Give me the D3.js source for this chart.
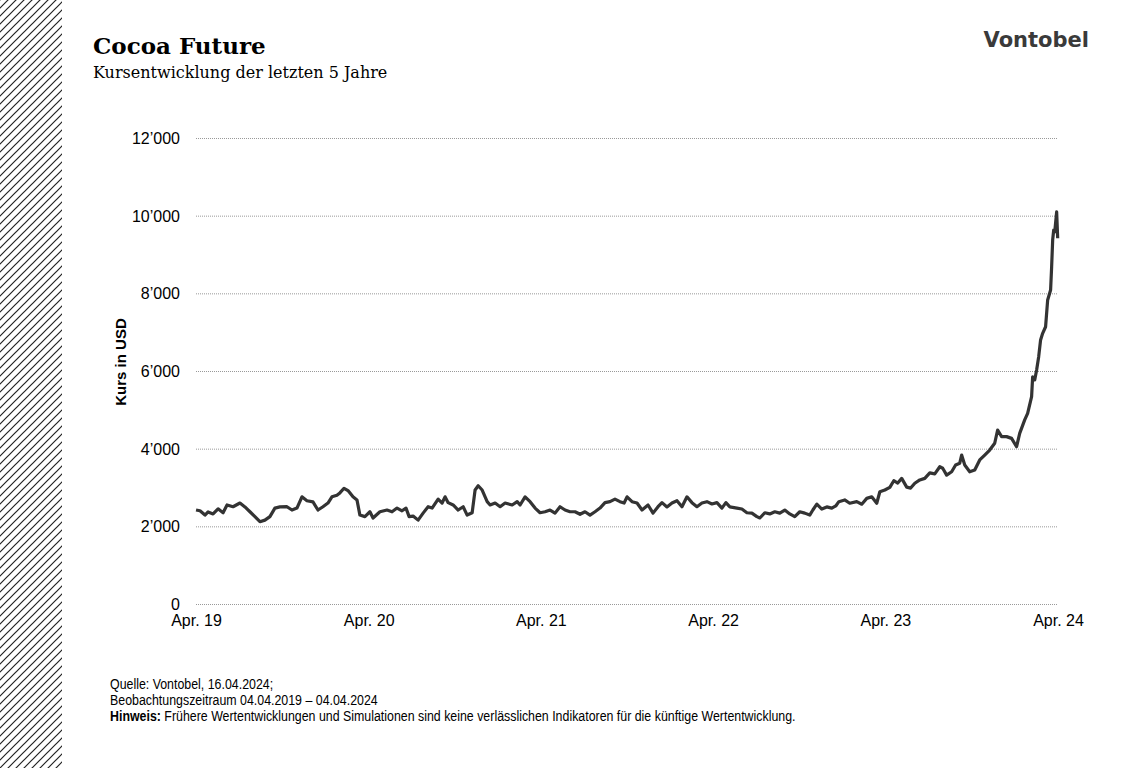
<!DOCTYPE html>
<html>
<head>
	<meta charset="utf-8">
	<title>Cocoa Future</title>
	<style>
		body { margin: 0; background: #fff; }
		svg { display: block; }
		.title { font-family: Georgia, 'DejaVu Serif', serif; font-weight: bold; font-size: 23px; }
		.subtitle { font-family: Georgia, 'DejaVu Serif', serif; font-size: 16px; }
		.tick text { font-family: 'Liberation Sans', Arial, sans-serif; font-size: 16px; fill: #000; }
		.ylab { font-family: 'Liberation Sans', Arial, sans-serif; font-size: 15px; font-weight: bold; }
		.logo { font-family: 'DejaVu Sans', sans-serif; font-weight: bold; font-size: 21px; fill: #3a3a3a; }
		.note { font-family: 'Liberation Sans', Arial, sans-serif; font-size: 14.5px; }
	</style>
</head>
<body>
<svg width="1122" height="768"></svg>
<script src="https://d3js.org/d3.v7.min.js"></script>
<script>

// price history, decimal year -> USD
const years = [
	2019.255, 2019.278, 2019.307, 2019.325, 2019.354, 2019.383, 2019.412, 2019.435, 2019.470, 2019.510,
	2019.539, 2019.568, 2019.597, 2019.626, 2019.655, 2019.684, 2019.713, 2019.742, 2019.783, 2019.812,
	2019.841, 2019.870, 2019.899, 2019.934, 2019.963, 2019.992, 2020.021, 2020.044, 2020.073, 2020.090,
	2020.114, 2020.137, 2020.166, 2020.189, 2020.206, 2020.235, 2020.264, 2020.282, 2020.322, 2020.363,
	2020.392, 2020.421, 2020.450, 2020.473, 2020.491, 2020.514, 2020.543, 2020.572, 2020.601, 2020.624,
	2020.659, 2020.682, 2020.699, 2020.717, 2020.746, 2020.775, 2020.804, 2020.827, 2020.856, 2020.873,
	2020.891, 2020.914, 2020.943, 2020.960, 2020.989, 2021.018, 2021.047, 2021.088, 2021.117, 2021.134,
	2021.163, 2021.192, 2021.221, 2021.250, 2021.279, 2021.308, 2021.337, 2021.366, 2021.395, 2021.424,
	2021.453, 2021.482, 2021.511, 2021.540, 2021.569, 2021.598, 2021.627, 2021.656, 2021.685, 2021.714,
	2021.738, 2021.755, 2021.784, 2021.813, 2021.842, 2021.877, 2021.906, 2021.935, 2021.958, 2021.987,
	2022.016, 2022.045, 2022.074, 2022.103, 2022.132, 2022.161, 2022.190, 2022.219, 2022.248, 2022.277,
	2022.306, 2022.329, 2022.352, 2022.393, 2022.422, 2022.451, 2022.480, 2022.509, 2022.526, 2022.555,
	2022.584, 2022.613, 2022.642, 2022.671, 2022.700, 2022.729, 2022.758, 2022.787, 2022.816, 2022.834,
	2022.857, 2022.886, 2022.915, 2022.944, 2022.967, 2022.985, 2023.019, 2023.048, 2023.089, 2023.118,
	2023.147, 2023.176, 2023.205, 2023.223, 2023.252, 2023.281, 2023.304, 2023.327, 2023.350, 2023.379,
	2023.402, 2023.426, 2023.455, 2023.484, 2023.513, 2023.542, 2023.571, 2023.588, 2023.611, 2023.640,
	2023.663, 2023.687, 2023.698, 2023.716, 2023.745, 2023.774, 2023.803, 2023.832, 2023.861, 2023.890,
	2023.907, 2023.930, 2023.959, 2023.988, 2024.017, 2024.035, 2024.064, 2024.081, 2024.104, 2024.110,
	2024.122, 2024.133, 2024.145, 2024.156, 2024.168, 2024.185, 2024.197, 2024.214, 2024.220, 2024.226,
	2024.232, 2024.238, 2024.249, 2024.255
];

const prices = [
	2420, 2400, 2290, 2370, 2320, 2450, 2350, 2550, 2505, 2600,
	2500, 2375, 2250, 2120, 2160, 2250, 2470, 2500, 2505, 2420,
	2470, 2760, 2660, 2630, 2420, 2505, 2600, 2760, 2800, 2860,
	2980, 2920, 2760, 2680, 2290, 2250, 2375, 2215, 2375, 2420,
	2375, 2470, 2400, 2470, 2250, 2265, 2160, 2340, 2505, 2470,
	2700, 2600, 2760, 2610, 2550, 2420, 2505, 2290, 2350, 2935,
	3045, 2935, 2635, 2550, 2600, 2505, 2600, 2550, 2635, 2550,
	2760, 2635, 2470, 2350, 2375, 2420, 2340, 2505, 2420, 2375,
	2375, 2310, 2375, 2290, 2375, 2470, 2610, 2635, 2700, 2635,
	2600, 2760, 2635, 2600, 2420, 2550, 2340, 2505, 2610, 2500,
	2600, 2660, 2505, 2760, 2610, 2505, 2600, 2635, 2575, 2610,
	2470, 2610, 2500, 2470, 2445, 2350, 2340, 2250, 2215, 2350,
	2320, 2375, 2340, 2420, 2320, 2250, 2375, 2340, 2290, 2420,
	2570, 2445, 2500, 2470, 2525, 2635, 2680, 2595, 2635, 2570,
	2720, 2760, 2595, 2890, 2935, 3005, 3175, 3115, 3235, 3010,
	2985, 3110, 3195, 3235, 3375, 3350, 3535, 3495, 3320, 3405,
	3580, 3625, 3835, 3580, 3405, 3450, 3710, 3835, 3965, 4140,
	4480, 4310, 4310, 4265, 4050, 4395, 4740, 4910, 5340, 5850,
	5770, 6025, 6370, 6800, 6970, 7140, 7830, 8085, 8685, 9375,
	9630, 9585, 10100, 9420
];

const yTicks = [0, 2000, 4000, 6000, 8000, 10000, 12000];
const xTickYears = [2019, 2020, 2021, 2022, 2023, 2024];
const xTickLabels = ['Apr. 19', 'Apr. 20', 'Apr. 21', 'Apr. 22', 'Apr. 23', 'Apr. 24'];

function toDate(t) {
	const y = Math.floor(t);
	const a = new Date(y, 0, 1), b = new Date(y + 1, 0, 1);
	return new Date(+a + (t - y) * (b - a));
}

const data = years.map((t, i) => ({date: toDate(t), value: prices[i]}));

const svg = d3.select('svg');

// hatched band on the left
const defs = svg.append('defs');
defs.append('pattern')
	.attr('id', 'hatch')
	.attr('patternUnits', 'userSpaceOnUse')
	.attr('width', 8)
	.attr('height', 8)
	.append('path')
	.attr('d', 'M-2,2 l4,-4 M0,8 l8,-8 M6,10 l4,-4')
	.attr('stroke', '#222')
	.attr('stroke-width', 1.2);

svg.append('rect')
	.attr('x', 0).attr('y', 0)
	.attr('width', 62).attr('height', 768)
	.attr('fill', 'url(#hatch)');

// header
svg.append('text').attr('class', 'title').attr('x', 93).attr('y', 54).text('Cocoa Future');
svg.append('text').attr('class', 'subtitle').attr('x', 93).attr('y', 78).text('Kursentwicklung der letzten 5 Jahre');
svg.append('text').attr('class', 'logo').attr('x', 1089).attr('y', 47).attr('text-anchor', 'end').text('Vontobel');

const x = d3.scaleTime()
	.domain([new Date(2019, 3, 4), new Date(2024, 3, 4)])
	.range([196, 1058]);

const y = d3.scaleLinear()
	.domain([0, 12000])
	.range([604, 138]);

const fmt = v => d3.format(',')(v).replace(/,/g, '\u2019');

// gridlines + y labels
const yAxis = svg.append('g')
	.attr('transform', 'translate(196,0)')
	.call(d3.axisLeft(y).tickValues(yTicks).tickFormat(fmt).tickSize(-862).tickPadding(16));
yAxis.select('.domain').remove();
yAxis.selectAll('.tick line')
	.attr('stroke', '#999')
	.attr('stroke-dasharray', '1,1');
yAxis.selectAll('.tick text').attr('dy', '0.35em');

// x labels
const xAxis = svg.append('g')
	.attr('transform', 'translate(0,604)')
	.call(d3.axisBottom(x)
		.tickValues(xTickYears.map(yr => new Date(yr, 3, 4)))
		.tickFormat((d, i) => xTickLabels[i])
		.tickSize(0).tickPadding(11));
xAxis.select('.domain').remove();

svg.append('text')
	.attr('class', 'ylab')
	.attr('transform', 'translate(126,362) rotate(-90)')
	.attr('text-anchor', 'middle')
	.text('Kurs in USD');

const line = d3.line()
	.x(d => x(d.date))
	.y(d => y(d.value));

svg.append('path')
	.datum(data)
	.attr('d', line)
	.attr('fill', 'none')
	.attr('stroke', '#333')
	.attr('stroke-width', 3.2)
	.attr('stroke-linejoin', 'round');

// footnote (condensed look)
const notes = svg.append('g').attr('class', 'note')
	.attr('transform', 'translate(110,0) scale(0.855,1)');
notes.append('text').attr('x', 0).attr('y', 689).text('Quelle: Vontobel, 16.04.2024;');
notes.append('text').attr('x', 0).attr('y', 705).text('Beobachtungszeitraum 04.04.2019 \u2013 04.04.2024');
const hw = notes.append('text').attr('x', 0).attr('y', 721);
hw.append('tspan').attr('font-weight', 'bold').text('Hinweis:');
hw.append('tspan').text(' Frühere Wertentwicklungen und Simulationen sind keine verlässlichen Indikatoren für die künftige Wertentwicklung.');

</script>
</body>
</html>
